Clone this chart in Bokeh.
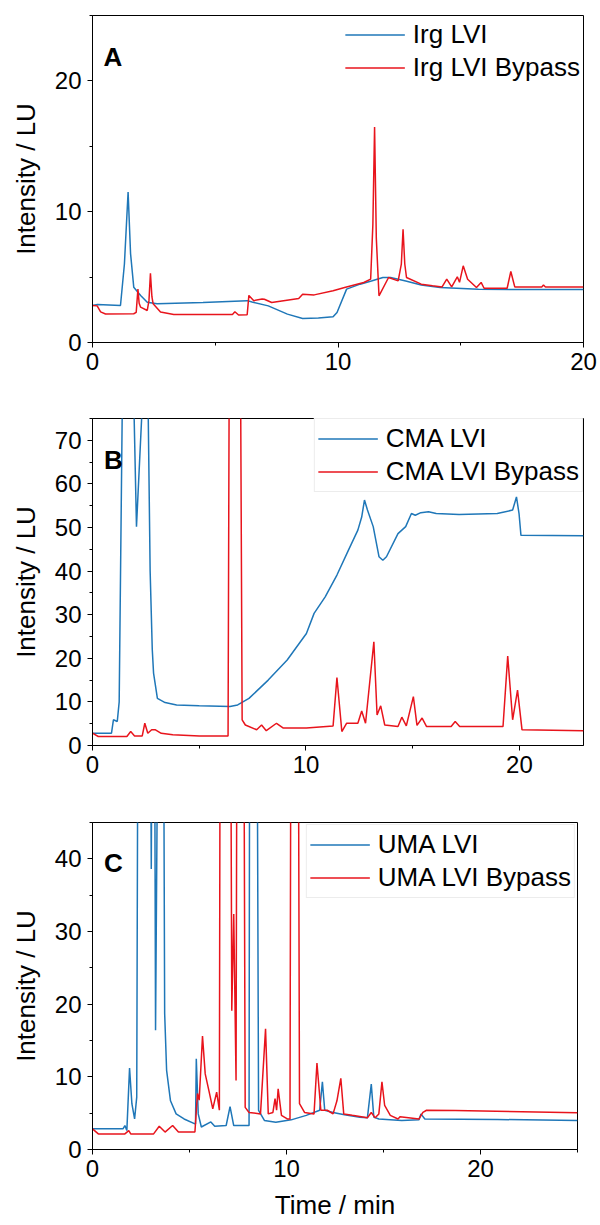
from bokeh.plotting import figure
from bokeh.models import Range1d, SingleIntervalTicker, Label
from bokeh.layouts import column
from bokeh.embed import file_html
from bokeh.resources import INLINE

BLUE = "#1F77B8"
RED = "#E8141C"
FONT = "Liberation Sans"

# ---------------- Panel A : Irg ----------------
a_blue_t = [0, 0.2, 1.14, 1.3, 1.45, 1.55, 1.68, 1.96, 2.23, 2.63, 4.5, 6.3, 6.5, 7.16, 7.94, 8.56,
            9.2, 9.8, 9.96, 10.35, 10.9, 11.36, 11.83, 12.14, 12.76, 13.39, 14.16, 15.72, 17.5, 20]
a_blue_v = [2.83, 2.9, 2.83, 6.0, 11.5, 6.8, 4.23, 3.6, 3.08, 2.96, 3.05, 3.2, 3.1, 2.8, 2.17, 1.83,
            1.88, 1.96, 2.3, 4.08, 4.46, 4.7, 4.97, 4.97, 4.7, 4.4, 4.2, 4.08, 4.05, 4.05]
a_red_t = [0, 0.19, 0.33, 0.53, 1.68, 1.78, 1.85, 1.9, 1.96, 2.23, 2.3, 2.36, 2.42, 2.47, 2.77, 3.31,
           5.7, 5.8, 5.95, 6.3, 6.37, 6.57, 6.91, 7.0, 7.3, 8.4, 8.56, 9.03, 9.8, 10.27, 11.05, 11.33,
           11.42, 11.49, 11.56, 11.67, 12.06, 12.45, 12.58, 12.65, 12.72, 12.79, 13.39, 13.85, 14.24,
           14.43, 14.63, 14.86, 14.95, 15.1, 15.28, 15.64, 15.83, 15.95, 16.89, 17.04, 17.2, 18.3,
           18.37, 18.45, 20]
a_red_v = [2.83, 2.8, 2.34, 2.18, 2.2, 2.3, 4.08, 3.0, 2.7, 2.45, 3.2, 5.3, 3.5, 2.96, 2.34, 2.14,
           2.14, 2.35, 2.1, 2.12, 3.6, 3.2, 3.33, 3.31, 3.06, 3.36, 3.69, 3.64, 3.95, 4.2, 4.59, 4.84,
           9.0, 16.48, 8.0, 3.57, 4.97, 4.71, 6.0, 8.66, 6.0, 4.97, 4.46, 4.33, 4.25,
           4.84, 4.25, 5.02, 4.6, 5.86, 4.84, 4.2, 4.59, 4.15, 4.15, 5.43, 4.25, 4.25,
           4.4, 4.25, 4.25]

# ---------------- Panel B : CMA ----------------
b_blue_t = [0, 0.89, 0.98, 1.16, 1.25, 1.4, 1.93, 2.06, 2.35, 2.6, 2.7, 2.8, 2.86, 3.04, 3.4, 3.94,
            5.0, 6.44, 6.8, 7.33, 8.23, 9.12, 10.02, 10.38, 10.9, 11.45, 11.99, 12.43, 12.61, 12.74,
            12.88, 13.15, 13.42, 13.6, 13.77, 14.31, 14.67, 14.94, 15.12, 15.38, 15.74, 16.1, 17.17,
            18.96, 19.68, 19.86, 19.98, 20.07, 23]
b_blue_v = [2.82, 2.82, 5.9, 5.5, 10, 80, 80, 50.2, 80, 80, 40, 22, 16.6, 10.8, 9.85, 9.3,
            9.1, 8.93, 9.3, 10.8, 15.0, 19.6, 25.7, 30.3, 34.1, 39.1, 44.8, 49.4, 52.4, 56.3,
            54.0, 50.2, 43.3, 42.5, 43.3, 48.6, 50.2, 53.2, 52.8, 53.4, 53.6, 53.2, 53.0,
            53.2, 54.0, 57.0, 53.2, 48.2, 48.1]
b_red_t = [0, 0.27, 1.61, 1.79, 1.97, 2.33, 2.45, 2.59, 2.77, 2.95, 3.22, 3.76, 5.01, 6.35, 6.4,
           6.94, 7.01, 7.16, 7.69, 7.92, 8.14, 8.62, 8.94, 10.02, 11.27, 11.45, 11.68, 11.9, 12.43,
           12.61, 12.79, 13.18, 13.33, 13.5, 13.69, 14.31, 14.49, 14.7, 15.03, 15.2, 15.44, 15.65,
           16.8, 16.99, 17.2, 19.23, 19.45, 19.68, 19.91, 20.12, 23]
b_red_v = [2.82, 2.06, 2.06, 3.2, 2.2, 2.2, 5.1, 2.8, 3.6, 3.6, 2.8, 2.44, 2.2, 2.2, 80,
           80, 5.9, 4.7, 3.6, 4.7, 3.4, 5.1, 4.0, 4.0, 4.5, 15.6, 3.2, 5.1, 5.1,
           7.9, 5.1, 23.8, 7.0, 9.1, 4.7, 4.35, 6.5, 4.5, 11.2, 4.6, 6.3, 4.35,
           4.35, 5.5, 4.35, 4.35, 20.5, 5.9, 12.7, 3.6, 3.4]

# ---------------- Panel C : UMA ----------------
c_blue_t = [0, 1.57, 1.67, 1.77, 1.91, 2.03, 2.17, 2.28, 2.36, 2.95, 3.03, 3.1, 3.18, 3.25, 3.42,
            3.64, 3.72, 3.82, 4.02, 4.31, 4.72, 5.31, 5.35, 5.45, 5.61, 6.1, 6.3, 6.89, 7.09, 7.28,
            8.07, 8.11, 8.46, 8.56, 8.86, 9.45, 10.24, 11.02, 11.71, 11.85, 11.97, 12.4, 12.99,
            13.78, 14.17, 14.37, 14.5, 14.76, 15.94, 16.83, 16.93, 17.13, 20.87, 25]
c_blue_v = [2.84, 2.84, 3.3, 2.6, 11.2, 6.3, 4.2, 7.2, 80, 80, 38.6, 80, 80, 16.4, 80,
            80, 18.7, 10.9, 6.7, 4.9, 4.2, 3.5, 12.5, 4.9, 3.1, 3.8, 3.2, 3.3, 5.9, 3.3,
            3.3, 80, 80, 5.4, 4.0, 3.76, 4.08, 4.7, 5.4, 9.3, 5.4, 5.1, 4.77,
            4.45, 4.36, 9.0, 4.45, 4.2, 4.0, 4.08, 4.9, 4.2, 4.13, 4.0]
c_red_t = [0, 0.3, 1.67, 1.87, 1.97, 3.15, 3.44, 3.74, 4.13, 4.43, 5.28, 5.41, 5.5, 5.67, 5.81,
           6.0, 6.2, 6.4, 6.54, 6.59, 7.1, 7.18, 7.28, 7.4, 7.46, 7.78, 7.87, 8.07, 8.66, 8.92,
           9.06, 9.3, 9.41, 9.49, 9.57, 9.74, 10.04, 10.18, 10.24, 10.59, 10.67, 10.93, 11.42,
           11.57, 11.77, 12.1, 12.4, 12.6, 12.8, 12.95, 13.39, 14.17, 14.37, 14.57, 14.76, 14.92,
           15.06, 15.35, 15.75, 15.85, 16.83, 17.03, 17.22, 18.7, 25]
c_red_v = [2.84, 2.15, 2.15, 2.6, 2.15, 2.15, 3.2, 2.4, 3.3, 2.4, 2.4, 7.7, 6.8, 15.6, 10.4,
           8.1, 5.6, 7.9, 5.4, 80, 80, 19.1, 32.4, 9.5, 80, 80, 5.8, 5.1, 4.9, 16.6,
           4.9, 5.1, 7.0, 5.4, 8.35, 4.7, 4.2, 4.2, 80, 80, 6.3, 5.1, 4.9,
           11.9, 5.4, 5.4, 4.9, 6.7, 9.8, 4.9, 4.7, 4.36, 5.1, 4.36, 4.9, 9.3,
           6.06, 4.7, 4.2, 4.5, 4.2, 5.1, 5.4, 5.35, 5.05]

x_ticks_interval = 10
panels = [
    dict(letter="A", names=["Irg LVI", "Irg LVI Bypass"], xmax=20, ymax=25, yint=10,
         blue=(a_blue_t, a_blue_v), red=(a_red_t, a_red_v), fw=491, top=15, bottom=38, right=17,
         letter_xy=(0.45, 21.8), border=False, margin=0, xlabel=None),
    dict(letter="B", names=["CMA LVI", "CMA LVI Bypass"], xmax=23, ymax=75, yint=10,
         blue=(b_blue_t, b_blue_v), red=(b_red_t, b_red_v), fw=491, top=38, bottom=35, right=17,
         letter_xy=(0.54, 65.4), border=True, margin=0, xlabel=None),
    dict(letter="C", names=["UMA LVI", "UMA LVI Bypass"], xmax=25, ymax=45, yint=10,
         blue=(c_blue_t, c_blue_v), red=(c_red_t, c_red_v), fw=485, top=42, bottom=76, right=23,
         letter_xy=(0.59, 39.4), border=True, margin=2, xlabel="Time / min"),
]

figs = []
for d in panels:
    p = figure(frame_width=d["fw"], frame_height=327,
               x_range=Range1d(0, d["xmax"]), y_range=Range1d(0, d["ymax"]),
               output_backend="svg", toolbar_location=None,
               min_border_left=92, min_border_right=d["right"],
               min_border_top=d["top"], min_border_bottom=d["bottom"])
    p.grid.visible = False
    p.outline_line_color = "black"
    p.outline_line_width = 1
    p.background_fill_color = "white"
    p.border_fill_color = "white"

    p.line(d["blue"][0], d["blue"][1], line_color=BLUE, line_width=1.5, legend_label=d["names"][0])
    p.line(d["red"][0], d["red"][1], line_color=RED, line_width=1.5, legend_label=d["names"][1])

    p.xaxis.ticker = SingleIntervalTicker(interval=x_ticks_interval, num_minor_ticks=2)
    p.yaxis.ticker = SingleIntervalTicker(interval=d["yint"], num_minor_ticks=2)
    for ax in (p.xaxis[0], p.yaxis[0]):
        ax.axis_line_color = "black"
        ax.major_tick_line_color = "black"
        ax.minor_tick_line_color = "black"
        ax.major_tick_out = 5
        ax.major_tick_in = 0
        ax.minor_tick_out = 3
        ax.minor_tick_in = 0
        ax.major_label_text_font = FONT
        ax.major_label_text_font_size = "24px"
        ax.major_label_text_color = "black"
        ax.axis_label_text_font = FONT
        ax.axis_label_text_font_size = "26px"
        ax.axis_label_text_font_style = "normal"
        ax.axis_label_text_color = "black"
    p.yaxis.axis_label = "Intensity / LU"
    p.yaxis.major_label_standoff = 6
    p.yaxis.axis_label_standoff = 11
    p.xaxis.major_label_standoff = 5
    if d["xlabel"]:
        p.xaxis.axis_label = d["xlabel"]
        p.xaxis.axis_label_standoff = 10

    lg = p.legend[0]
    lg.location = "top_right"
    lg.margin = d["margin"]
    lg.padding = 3
    lg.spacing = 0
    lg.glyph_width = 60
    lg.glyph_height = 33
    lg.label_height = 33
    lg.label_standoff = 8
    lg.label_text_font = FONT
    lg.label_text_font_size = "26px"
    lg.label_text_color = "black"
    lg.background_fill_color = "white"
    lg.background_fill_alpha = 1.0
    if d["border"]:
        lg.border_line_color = "#DADADA"
        lg.border_line_width = 1.5
    else:
        lg.border_line_alpha = 0
        lg.background_fill_alpha = 0

    p.add_layout(Label(x=d["letter_xy"][0], y=d["letter_xy"][1], text=d["letter"],
                       text_font=FONT, text_font_size="26px", text_font_style="bold",
                       text_color="black", text_baseline="alphabetic"))
    figs.append(p)

layout = column(*figs, spacing=0)
open("out.html", "w").write(file_html(layout, INLINE))
